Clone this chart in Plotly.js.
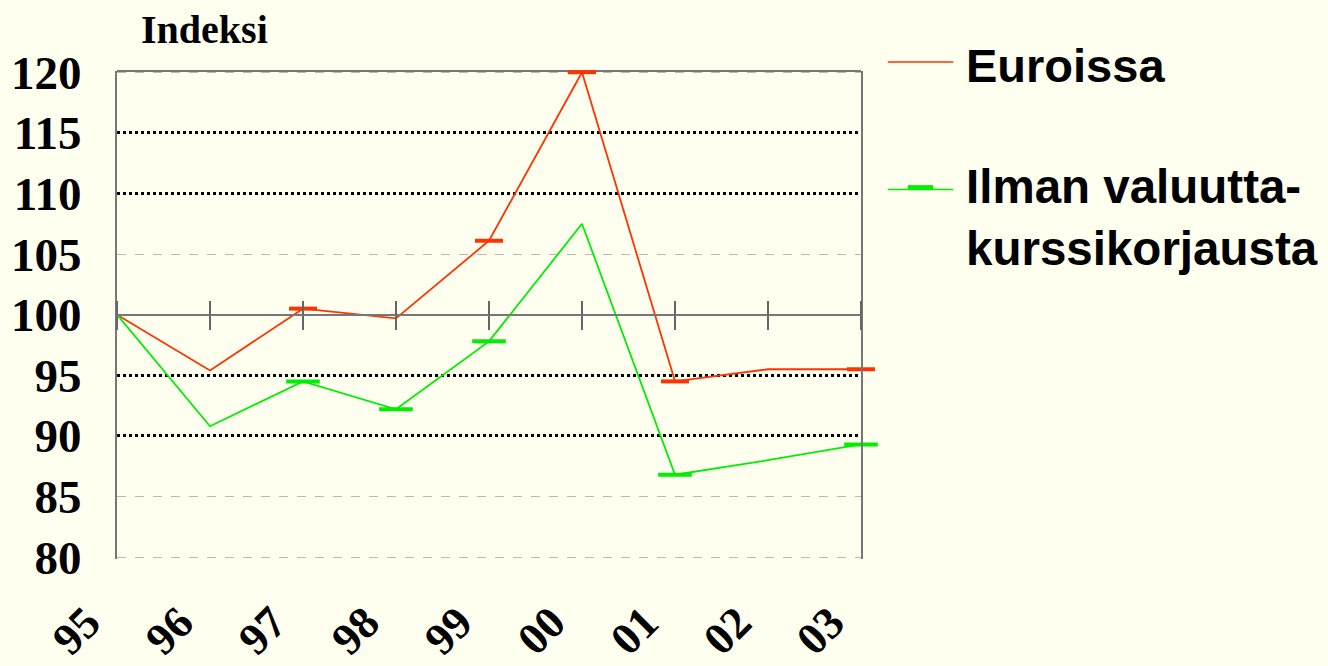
<!DOCTYPE html>
<html>
<head>
<meta charset="utf-8">
<script src="https://cdn.plot.ly/plotly-3.0.1.min.js"></script>
<style>
  html, body { margin: 0; padding: 0; background: #FFFFF0; }
  #chart { width: 1328px; height: 666px; }
</style>
</head>
<body>
<div id="chart"></div>
<script>
// ---- data ----
const years = ['95', '96', '97', '98', '99', '00', '01', '02', '03'];
const euroissa = [100, 95.4, 100.5, 99.7, 106.1, 120, 94.5, 95.5, 95.5];
const ilmanValuutta = [100, 90.8, 94.5, 92.2, 97.8, 107.5, 86.8, 88.0, 89.3];
const yTicks = [80, 85, 90, 95, 100, 105, 110, 115, 120];
const dottedGrid = [90, 95, 110, 115];
const dashedGrid = [80, 85, 105, 120];
const seriesNames = ['Euroissa', 'Ilman valuutta-<br>kurssikorjausta'];
const yTitle = 'Indeksi';
// points that carry a dash marker in the original
const euroMarked = [false, false, true, false, true, true, true, false, true];
const ilmanMarked = [false, false, true, true, true, false, true, false, true];

const RED = '#FF3300';
const GREEN = '#00EE00';
const BG = '#FFFFF0';
const serif = 'Liberation Serif, Times New Roman, serif';
const sans = 'Liberation Sans, Arial, sans-serif';

function only(arr, flags) { return arr.map((v, i) => (flags[i] ? v : null)); }

const traces = [
  { x: years, y: euroissa, type: 'scatter', mode: 'lines',
    line: { color: RED, width: 1.8 }, showlegend: false, hoverinfo: 'skip', cliponaxis: false },
  { x: years, y: ilmanValuutta, type: 'scatter', mode: 'lines',
    line: { color: GREEN, width: 1.8 }, showlegend: false, hoverinfo: 'skip', cliponaxis: false },
  { x: years, y: only(euroissa, euroMarked), type: 'scatter', mode: 'markers',
    xaxis: 'x2', yaxis: 'y2', cliponaxis: false,
    marker: { symbol: 'line-ew', size: 20, line: { color: RED, width: 4 } },
    showlegend: false, hoverinfo: 'skip' },
  { x: years, y: only(ilmanValuutta, ilmanMarked), type: 'scatter', mode: 'markers',
    xaxis: 'x3', yaxis: 'y3', cliponaxis: false,
    marker: { symbol: 'line-ew', size: 24, line: { color: GREEN, width: 4 } },
    showlegend: false, hoverinfo: 'skip' }
];

const xr = [0, years.length - 1];
const yr = [yTicks[0] - 0.15, yTicks[yTicks.length - 1] + 0.1];

const layout = {
  width: 1328, height: 666,
  margin: { l: 117, r: 467, t: 71, b: 107 },
  paper_bgcolor: BG, plot_bgcolor: BG,
  showlegend: false,
  xaxis: {
    type: 'category', categoryorder: 'array', categoryarray: years, range: xr,
    showgrid: false, zeroline: false, showline: false,
    ticks: '', tickangle: -45, tickfont: { family: serif, size: 45, color: '#000', weight: 'bold' },
    ticklabelstandoff: 27, ticklabelshift: -30
  },
  // axis line crossing at 100 with ticks on both sides
  xaxis2: {
    type: 'category', categoryorder: 'array', categoryarray: years, range: xr,
    overlaying: 'x', anchor: 'free', position: (100 - yr[0]) / (yr[1] - yr[0]), side: 'bottom',
    showgrid: false, zeroline: false, showline: true, linecolor: '#777', linewidth: 2,
    ticks: 'outside', ticklen: 14, tickwidth: 1.5, tickcolor: '#666', showticklabels: false,
    tickmode: 'array', tickvals: years
  },
  xaxis3: {
    type: 'category', categoryorder: 'array', categoryarray: years, range: xr,
    overlaying: 'x', anchor: 'free', position: (100 - yr[0]) / (yr[1] - yr[0]), side: 'top',
    showgrid: false, zeroline: false, showline: false,
    ticks: 'outside', ticklen: 14, tickwidth: 1.5, tickcolor: '#666', showticklabels: false,
    tickmode: 'array', tickvals: years
  },
  yaxis: {
    range: yr, tickmode: 'array', tickvals: yTicks, ticktext: yTicks.map(String),
    showgrid: false, zeroline: false, showline: true, mirror: true, linecolor: '#777', linewidth: 2,
    ticks: '', tickfont: { family: serif, size: 47, color: '#000', weight: 'bold' },
    ticklabelstandoff: 24
  },
  yaxis2: {
    range: yr, overlaying: 'y', tickmode: 'array', tickvals: dashedGrid,
    showgrid: true, gridcolor: '#BBBBAA', griddash: 'dash', gridwidth: 1,
    showticklabels: false, zeroline: false, showline: false, ticks: ''
  },
  yaxis3: {
    range: yr, overlaying: 'y', tickmode: 'array', tickvals: dottedGrid,
    showgrid: true, gridcolor: '#000', griddash: 'dot', gridwidth: 3,
    showticklabels: false, zeroline: false, showline: false, ticks: ''
  },
  shapes: [
    // top frame edge
    { type: 'line', xref: 'paper', yref: 'paper', x0: 0, x1: 1, y0: 1, y1: 1,
      line: { color: '#777', width: 2 }, layer: 'below' },
    // legend keys
    { type: 'line', xref: 'paper', yref: 'paper', x0: 1.036, x1: 1.124, y0: 1.0185, y1: 1.0185,
      line: { color: RED, width: 1.5 } },
    { type: 'line', xref: 'paper', yref: 'paper', x0: 1.036, x1: 1.124, y0: 0.757, y1: 0.757,
      line: { color: GREEN, width: 1.5 } },
    { type: 'line', xref: 'paper', yref: 'paper', x0: 1.063, x1: 1.097, y0: 0.762, y1: 0.762,
      line: { color: GREEN, width: 4 } }
  ],
  annotations: [
    { text: yTitle, xref: 'paper', yref: 'paper', x: 0.118, y: 1.086, xanchor: 'center', yanchor: 'middle',
      showarrow: false, font: { family: serif, size: 40, color: '#000', weight: 'bold' } },
    { text: seriesNames[0], xref: 'paper', yref: 'paper', x: 1.139, y: 1.012, xanchor: 'left', yanchor: 'middle',
      showarrow: false, align: 'left', font: { family: sans, size: 47, color: '#000', weight: 'bold' } },
    { text: seriesNames[1], xref: 'paper', yref: 'paper', x: 1.139, y: 0.70, xanchor: 'left', yanchor: 'middle',
      showarrow: false, align: 'left', font: { family: sans, size: 47.5, color: '#000', weight: 'bold' } }
  ]
};

Plotly.newPlot('chart', traces, layout, { displayModeBar: false, staticPlot: true });
</script>
</body>
</html>
